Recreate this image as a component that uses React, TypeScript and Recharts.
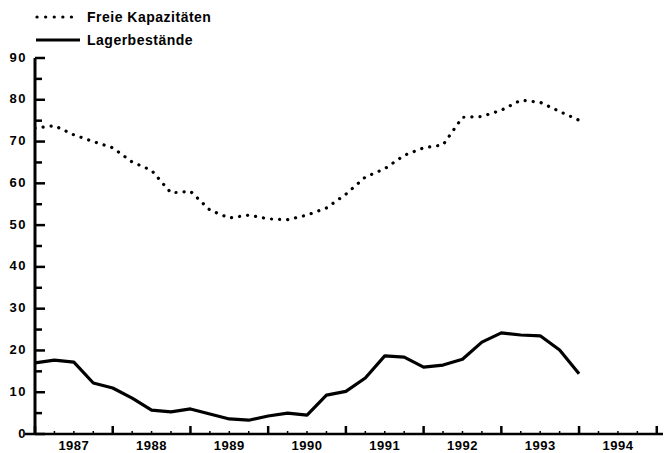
import React from 'react';
import { LineChart, Line, XAxis, YAxis, Legend } from 'recharts';

// Quarterly time positions (year + quarter fraction)
const quarters = [
  1987, 1987.25, 1987.5, 1987.75,
  1988, 1988.25, 1988.5, 1988.75,
  1989, 1989.25, 1989.5, 1989.75,
  1990, 1990.25, 1990.5, 1990.75,
  1991, 1991.25, 1991.5, 1991.75,
  1992, 1992.25, 1992.5, 1992.75,
  1993, 1993.25, 1993.5, 1993.75,
  1994,
];

const freieKapazitaeten = [
  73.2, 73.8, 71.6, 70.0,
  68.5, 65.1, 63.1, 57.7,
  58.1, 53.6, 51.7, 52.4,
  51.5, 51.3, 52.4, 54.1,
  57.4, 61.5, 63.5, 66.7,
  68.5, 69.2, 75.8, 76.0,
  77.5, 79.9, 79.4, 77.2,
  75.1,
];

const lagerbestaende = [
  17.0, 17.7, 17.2, 12.2,
  11.0, 8.6, 5.7, 5.3,
  6.0, 4.8, 3.6, 3.3,
  4.3, 5.0, 4.5, 9.3,
  10.2, 13.4, 18.7, 18.4,
  16.0, 16.5, 17.9, 22.0,
  24.2, 23.7, 23.5, 20.1,
  14.4,
];

const xTicks = [
  1987, 1987.25, 1987.5, 1987.75, 1988, 1988.25, 1988.5, 1988.75,
  1989, 1989.25, 1989.5, 1989.75, 1990, 1990.25, 1990.5, 1990.75,
  1991, 1991.25, 1991.5, 1991.75, 1992, 1992.25, 1992.5, 1992.75,
  1993, 1993.25, 1993.5, 1993.75, 1994, 1994.25, 1994.5, 1994.75,
  1995,
];
const yearLabels = ['1987', '1988', '1989', '1990', '1991', '1992', '1993', '1994'];
const yTicks = [0, 5, 10, 15, 20, 25, 30, 35, 40, 45, 50, 55, 60, 65, 70, 75, 80, 85, 90];

const seriesNames = ['Freie Kapazitäten', 'Lagerbestände'];

const data = quarters.map((t, i) => ({
  t,
  frei: freieKapazitaeten[i],
  lager: lagerbestaende[i],
}));

const FONT = '"Liberation Sans", Arial, Helvetica, sans-serif';

const XTick = (props: any) => {
  const { x, y, payload } = props;
  const v: number = payload.value;
  const frac = Math.round((v - Math.floor(v)) * 100) / 100;
  const major = frac === 0;
  const len = major ? 8 : 3;
  const labelIdx = frac === 0.5 ? Math.floor(v) - 1987 : -1;
  const label = labelIdx >= 0 ? yearLabels[labelIdx] : null;
  return (
    <g>
      <line x1={x} x2={x} y1={y} y2={y - len} stroke="#000" strokeWidth={major ? 2.5 : 1.5} />
      {label && (
        <text
          x={x}
          y={y + 15.5}
          textAnchor="middle"
          fontFamily={FONT}
          fontWeight="bold"
          fontSize={13}
          letterSpacing={0.5}
          fill="#000"
        >
          {label}
        </text>
      )}
    </g>
  );
};

const YTick = (props: any) => {
  const { x, y, payload } = props;
  const v: number = payload.value;
  const major = v % 10 === 0;
  const len = major ? 10 : 7;
  return (
    <g>
      <line x1={x} x2={x + len} y1={y} y2={y} stroke="#000" strokeWidth={2.5} />
      {v === 0 && <line x1={x - 10} x2={x} y1={y} y2={y} stroke="#000" strokeWidth={2.5} />}
      {major && (
        <text
          x={x - 8}
          y={y - 1}
          textAnchor="end"
          dominantBaseline="central"
          fontFamily={FONT}
          fontWeight="bold"
          fontSize={13}
          letterSpacing={1.5}
          fill="#000"
        >
          {v}
        </text>
      )}
    </g>
  );
};

const renderLegend = () => (
  <svg width={260} height={52} style={{ display: 'block' }}>
    <line x1={37} x2={73} y1={17} y2={17} stroke="#000" strokeWidth={3.2} strokeDasharray="0.1 8.5" strokeLinecap="round" />
    <text x={87} y={17} dominantBaseline="central" fontFamily={FONT} fontWeight="bold" fontSize={14} letterSpacing={0.5} fill="#000">
      {seriesNames[0]}
    </text>
    <line x1={36} x2={80} y1={40} y2={40} stroke="#000" strokeWidth={3.2} />
    <text x={87} y={40} dominantBaseline="central" fontFamily={FONT} fontWeight="bold" fontSize={14} letterSpacing={0.5} fill="#000">
      {seriesNames[1]}
    </text>
  </svg>
);

export default function App() {
  return (
    <div style={{ position: 'absolute', left: 0, top: 0, width: 665, height: 453, background: '#fff' }}>
      <LineChart width={665} height={453} data={data} margin={{ top: 58, right: 2, left: 0, bottom: 0 }}>
        <XAxis
          dataKey="t"
          type="number"
          domain={[1987, 1995.08]}
          allowDataOverflow
          ticks={xTicks}
          interval={0}
          height={19}
          tickSize={0}
          tickMargin={0}
          tickLine={false}
          tick={<XTick />}
          axisLine={{ stroke: '#000', strokeWidth: 2.5 }}
        />
        <YAxis
          type="number"
          domain={[0, 90]}
          ticks={yTicks}
          interval={0}
          width={35}
          tickSize={0}
          tickMargin={0}
          tickLine={false}
          tick={<YTick />}
          axisLine={{ stroke: '#000', strokeWidth: 3 }}
        />
        <Legend
          layout="horizontal"
          verticalAlign="middle"
          align="center"
          wrapperStyle={{ top: 0, left: 0, width: 260, height: 52 }}
          content={renderLegend}
        />
        <Line
          type="linear"
          dataKey="frei"
          name={seriesNames[0]}
          stroke="#000"
          strokeWidth={3.2}
          strokeDasharray="0.1 8"
          strokeLinecap="round"
          dot={false}
          activeDot={false}
          isAnimationActive={false}
        />
        <Line
          type="linear"
          dataKey="lager"
          name={seriesNames[1]}
          stroke="#000"
          strokeWidth={3.2}
          strokeLinejoin="round"
          dot={false}
          activeDot={false}
          isAnimationActive={false}
        />
      </LineChart>
    </div>
  );
}
